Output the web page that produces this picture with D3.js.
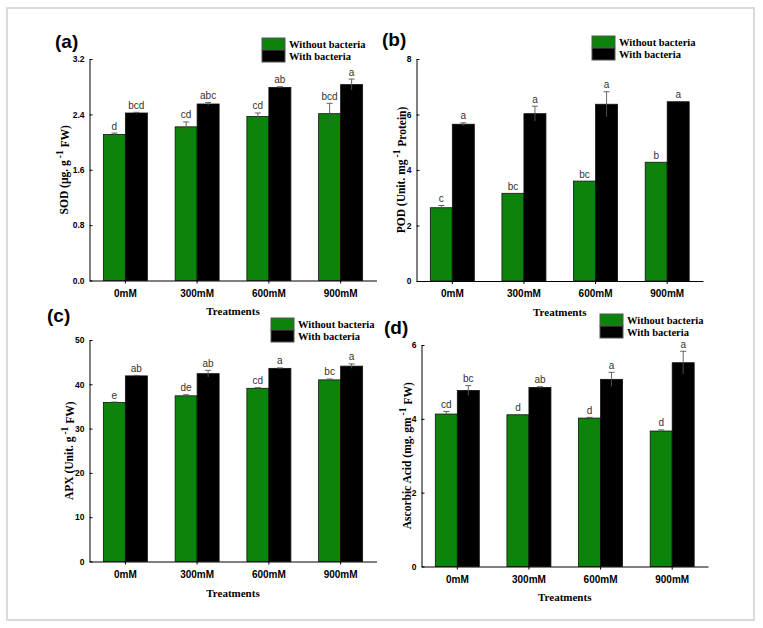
<!DOCTYPE html>
<html>
<head>
<meta charset="utf-8">
<script src="https://cdn.jsdelivr.net/npm/d3@7"></script>
<style>
  body { margin: 0; background: #fff; }
  .tick text { font-family: Arial, "Liberation Sans", sans-serif; font-weight: bold; fill: #000; }
  .serif { font-family: "Times New Roman", "Liberation Serif", serif; font-weight: bold; }
</style>
</head>
<body>
<div class="card"></div>
<script>
// categories and series
var treatments = ["0mM", "300mM", "600mM", "900mM"];
var groups = ["Without bacteria", "With bacteria"];

// (a) SOD
var sodWithout = [2.11, 2.22, 2.37, 2.41];
var sodWithoutErr = [0.02, 0.07, 0.05, 0.15];
var sodWith = [2.42, 2.55, 2.79, 2.83];
var sodWithErr = [0.01, 0.02, 0.01, 0.08];
var sodLettersWithout = ["d", "cd", "cd", "bcd"];
var sodLettersWith = ["bcd", "abc", "ab", "a"];
var sodTicks = [0, 0.8, 1.6, 2.4, 3.2];

// (b) POD
var podWithout = [2.64, 3.16, 3.60, 4.28];
var podWithoutErr = [0.08, 0, 0, 0];
var podWith = [5.65, 6.03, 6.37, 6.46];
var podWithErr = [0.05, 0.27, 0.45, 0];
var podLettersWithout = ["c", "bc", "bc", "b"];
var podLettersWith = ["a", "a", "a", "a"];
var podTicks = [0, 2, 4, 6, 8];

// (c) APX
var apxWithout = [35.9, 37.4, 39.1, 41.0];
var apxWithoutErr = [0.1, 0.25, 0.15, 0.2];
var apxWith = [41.9, 42.4, 43.6, 44.1];
var apxWithErr = [0.1, 0.75, 0.1, 0.5];
var apxLettersWithout = ["e", "de", "cd", "bc"];
var apxLettersWith = ["ab", "ab", "a", "a"];
var apxTicks = [0, 10, 20, 30, 40, 50];

// (d) Ascorbic acid
var asaWithout = [4.13, 4.11, 4.02, 3.67];
var asaWithoutErr = [0.07, 0, 0.02, 0.03];
var asaWith = [4.77, 4.85, 5.07, 5.52];
var asaWithErr = [0.13, 0.02, 0.19, 0.31];
var asaLettersWithout = ["cd", "d", "d", "d"];
var asaLettersWith = ["bc", "ab", "a", "a"];
var asaTicks = [0, 2, 4, 6];

var colors = ["#0c840c", "#000000"];

var panels = [
  { tag: "(a)", ylab: ["SOD (\u00b5g. g", " FW)"], ticks: sodTicks, fmt: ".1f",
    vals: [sodWithout, sodWith], errs: [sodWithoutErr, sodWithErr], letters: [sodLettersWithout, sodLettersWith],
    x0: 89.5, x1: 376.5, yTop: 59, yBot: 280.5, tagX: 55, tagY: 48, labX: 68, legX: 262, legY: 38, treatY: 315 },
  { tag: "(b)", ylab: ["POD (Unit. mg", " Protein)"], ticks: podTicks, fmt: "d",
    vals: [podWithout, podWith], errs: [podWithoutErr, podWithErr], letters: [podLettersWithout, podLettersWith],
    x0: 416.5, x1: 703, yTop: 59, yBot: 281, tagX: 382, tagY: 46, labX: 405, legX: 592, legY: 36, treatY: 316 },
  { tag: "(c)", ylab: ["APX (Unit. g", " FW)"], ticks: apxTicks, fmt: "d",
    vals: [apxWithout, apxWith], errs: [apxWithoutErr, apxWithErr], letters: [apxLettersWithout, apxLettersWith],
    x0: 89.5, x1: 376.5, yTop: 340, yBot: 561.5, tagX: 47, tagY: 322, labX: 73, legX: 271, legY: 318, treatY: 597 },
  { tag: "(d)", ylab: ["Ascorbic Acid (mg. gm", " FW)"], ticks: asaTicks, fmt: "d",
    vals: [asaWithout, asaWith], errs: [asaWithoutErr, asaWithErr], letters: [asaLettersWithout, asaLettersWith],
    x0: 421.5, x1: 708, yTop: 345, yBot: 566.5, tagX: 384, tagY: 334, labX: 411, legX: 600, legY: 314, treatY: 601 }
];

var svg = d3.select('.card')
  .append('svg')
  .attr('width', 763)
  .attr('height', 628);

// outer frame
svg.append('rect')
  .attr('x', 7).attr('y', 8)
  .attr('width', 747).attr('height', 612)
  .attr('fill', '#fff')
  .attr('stroke', '#dadada')
  .attr('stroke-width', 2);

panels.forEach(function(p) {
  var g = svg.append('g');

  var x = d3.scaleBand().domain(treatments).range([p.x0, p.x1]).padding(0);
  var sub = d3.scaleBand().domain(groups).range([-22, 22]).padding(0);
  var y = d3.scaleLinear()
    .domain([0, p.ticks[p.ticks.length - 1]])
    .range([p.yBot, p.yTop]);

  // bars
  groups.forEach(function(s, si) {
    var rows = treatments.map(function(t, i) {
      return { t: t, v: p.vals[si][i], e: p.errs[si][i], l: p.letters[si][i] };
    });
    var cx = function(d) { return x(d.t) + x.bandwidth() / 2 + sub(s); };

    g.selectAll('.bar' + si)
      .data(rows)
      .enter()
      .append('rect')
      .attr('x', d => cx(d))
      .attr('y', d => y(d.v))
      .attr('width', sub.bandwidth())
      .attr('height', d => y(0) - y(d.v))
      .attr('fill', colors[si])
      .attr('stroke', '#111')
      .attr('stroke-width', 0.8);

    // error bars (upper half only)
    var eb = g.selectAll('.err' + si)
      .data(rows.filter(d => d.e > 0))
      .enter()
      .append('g')
      .attr('stroke', '#555')
      .attr('stroke-width', 0.9);
    eb.append('line')
      .attr('x1', d => cx(d) + sub.bandwidth() / 2)
      .attr('x2', d => cx(d) + sub.bandwidth() / 2)
      .attr('y1', d => y(d.v - d.e))
      .attr('y2', d => y(d.v + d.e));
    eb.append('line')
      .attr('x1', d => cx(d) + sub.bandwidth() / 2 - 3)
      .attr('x2', d => cx(d) + sub.bandwidth() / 2 + 3)
      .attr('y1', d => y(d.v + d.e))
      .attr('y2', d => y(d.v + d.e));

    // significance letters
    g.selectAll('.let' + si)
      .data(rows)
      .enter()
      .append('text')
      .attr('x', d => cx(d) + sub.bandwidth() / 2)
      .attr('y', d => y(d.v + d.e) - 3.5)
      .attr('text-anchor', 'middle')
      .attr('font-family', 'Arial, "Liberation Sans", sans-serif')
      .attr('font-size', 10)
      .attr('fill', '#333')
      .text(d => d.l);
  });

  // axes
  var xAxis = d3.axisBottom(x).tickSizeInner(3).tickSizeOuter(0).tickPadding(6);
  var xg = g.append('g')
    .attr('transform', 'translate(0,' + p.yBot + ')')
    .call(xAxis);
  xg.selectAll('.tick text').attr('font-size', 10);

  var yAxis = d3.axisLeft(y).tickValues(p.ticks).tickFormat(d3.format(p.fmt))
    .tickSizeInner(-3).tickSizeOuter(0).tickPadding(5);
  var yg = g.append('g')
    .attr('transform', 'translate(' + p.x0 + ',0)')
    .call(yAxis);
  yg.selectAll('.tick text').attr('font-size', 8.5);
  g.selectAll('.domain, .tick line').attr('stroke', '#000').attr('stroke-width', 1);

  // panel tag
  g.append('text')
    .attr('x', p.tagX).attr('y', p.tagY)
    .attr('font-family', 'Arial, "Liberation Sans", sans-serif')
    .attr('font-weight', 'bold')
    .attr('font-size', 19)
    .text(p.tag);

  // x title
  g.append('text')
    .attr('class', 'serif')
    .attr('x', (p.x0 + p.x1) / 2).attr('y', p.treatY)
    .attr('text-anchor', 'middle')
    .attr('font-size', 11)
    .text('Treatments');

  // y title with superscript
  var yl = g.append('text')
    .attr('class', 'serif')
    .attr('text-anchor', 'middle')
    .attr('font-size', 11.5)
    .attr('transform', 'translate(' + p.labX + ',' + (p.yTop + p.yBot) / 2 + ') rotate(-90)');
  yl.append('tspan').text(p.ylab[0]);
  yl.append('tspan').attr('dx', 2).attr('dy', '-0.55em').attr('font-size', 9.5).text('-1');
  yl.append('tspan').attr('dy', '0.55em').text(p.ylab[1]);

  // legend
  groups.forEach(function(s, si) {
    g.append('rect')
      .attr('x', p.legX).attr('y', p.legY + si * 12)
      .attr('width', 23).attr('height', 12)
      .attr('fill', colors[si])
      .attr('stroke', '#555')
      .attr('stroke-width', 1);
    g.append('text')
      .attr('class', 'serif')
      .attr('x', p.legX + 27).attr('y', p.legY + si * 12 + 10)
      .attr('font-size', 10.5)
      .text(s);
  });
});
</script>
</body>
</html>
